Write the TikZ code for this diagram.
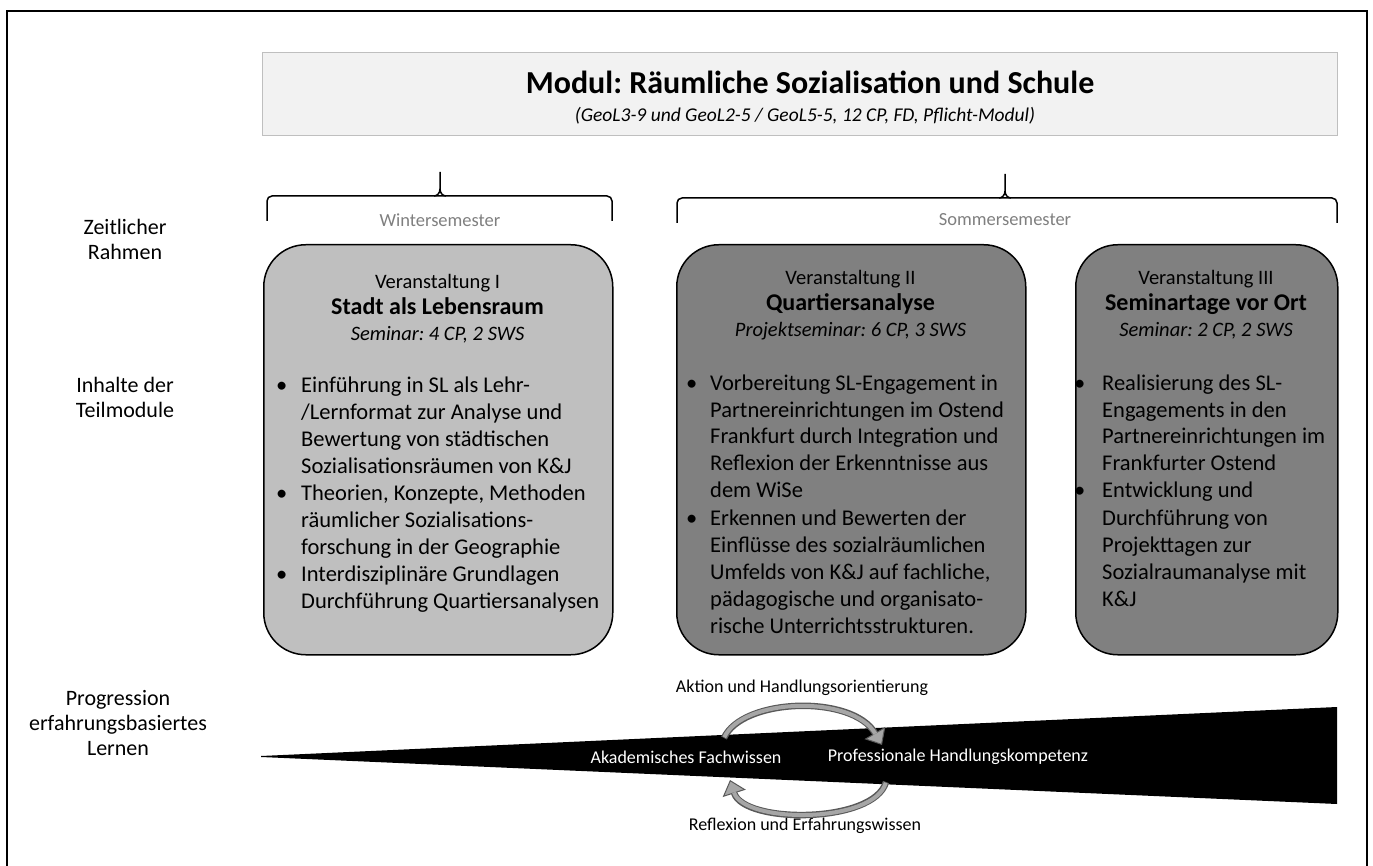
\documentclass[tikz,border=0pt]{standalone}
\usepackage{fontspec}
\setmainfont{Carlito}
\usetikzlibrary{arrows.meta}
\frenchspacing
\newcommand\fsz[2]{\fontsize{#1}{#2}\selectfont}
\definecolor{boxlight}{HTML}{BFBFBF}
\definecolor{boxdark}{HTML}{808080}
\definecolor{topfill}{HTML}{F2F2F2}
\definecolor{topline}{HTML}{BFBFBF}
\definecolor{semgray}{HTML}{7F7F7F}
\definecolor{arrowline}{HTML}{595959}
\definecolor{arrowfill}{HTML}{A6A6A6}
\begin{document}
\begin{tikzpicture}[x=1pt,y=-1pt,
  module/.style={draw=black, line width=1.5pt, rounded corners=42pt, anchor=north west,
    inner sep=0pt, minimum height=410pt},
  modlight/.style={module, fill=boxlight},
  moddark/.style={module, fill=boxdark},
  rowlabel/.style={align=center, font=\fsz{22}{25}},
  header/.style={align=center, font=\fsz{20.5}{26}, anchor=north},
  bullets/.style={anchor=base west, inner sep=0pt, font=\fsz{22.5}{27}},
  semester/.style={text=semgray, font=\fsz{18.5}{22}},
  brace/.style={line width=1.5pt, rounded corners=5pt},
  wedgetext/.style={text=white, font=\fsz{18}{22}},
  cycletext/.style={font=\fsz{18}{22}},
  cycleout/.style={draw=arrowline, line width=6.5pt},
  cyclein/.style={draw=arrowfill, line width=4pt, shorten >=13pt, shorten <=0.8pt},
]
\useasboundingbox (0,0) rectangle (1373,866);
% outer frame
\draw[line width=1.5pt] (7,880) -- (7,11) -- (1367,11) -- (1367,880);

% module title
\node[draw=topline, line width=1pt, fill=topfill, anchor=north west, minimum width=1075pt,
  minimum height=83pt, inner sep=0pt] (modbox) at (262,52) {};
\node[font=\bfseries\fsz{32}{36}] (title) at (810,82) {Modul: Räumliche Sozialisation und Schule};
\node[font=\itshape\fsz{19.5}{24}] (subtitle) at (805,116) {(GeoL3-9 und GeoL2-5 / GeoL5-5, 12 CP, FD, Pflicht-Modul)};

% row labels
\node[rowlabel] (lzeit) at (125,239) {Zeitlicher\\Rahmen};
\node[rowlabel] (linhalt) at (125,397) {Inhalte der\\Teilmodule};
\node[rowlabel] (lprog) at (118,723) {Progression\\erfahrungsbasiertes\\Lernen};

% braces
\draw[brace] (267,221) -- (267,196) -- (612,196) -- (612,221);
\draw[line width=1.5pt] (434,196) to[out=0,in=-90] (440,189) -- (440,172);
\draw[line width=1.5pt] (440,189) to[out=-90,in=180] (446,196);
\draw[brace] (677,223) -- (677,198) -- (1337,198) -- (1337,223);
\draw[line width=1.5pt] (999,198) to[out=0,in=-90] (1005,191) -- (1005,174);
\draw[line width=1.5pt] (1005,191) to[out=-90,in=180] (1011,198);
\node[semester] (winter) at (440,220) {Wintersemester};
\node[semester] (sommer) at (1005,220) {Sommersemester};

% module boxes
\node[modlight, minimum width=349pt] (m1) at (263,244) {};
\node[moddark, minimum width=349pt] (m2) at (676,244) {};
\node[moddark, minimum width=262pt] (m3) at (1075,244) {};

\node[header] (h1) at (437.5,271) {Veranstaltung I\\{\bfseries\fsz{24}{26}Stadt als Lebensraum}\\\textit{Seminar: 4 CP, 2 SWS}};
\node[header] (h2) at (850.5,267) {Veranstaltung II\\{\bfseries\fsz{24}{26}Quartiersanalyse}\\\textit{Projektseminar: 6 CP, 3 SWS}};
\node[header] (h3) at (1206,267) {Veranstaltung III\\{\bfseries\fsz{24}{26}Seminartage vor Ort}\\\textit{Seminar: 2 CP, 2 SWS}};

\node[bullets] (b1) at (276,392) {\begin{tabular}[t]{@{}p{25pt}@{}l@{}}
\textbullet & Einführung in SL als Lehr-\\
 & /Lernformat zur Analyse und\\
 & Bewertung von städtischen\\
 & Sozialisationsräumen von K\&J\\
\textbullet & Theorien, Konzepte, Methoden\\
 & räumlicher Sozialisations-\\
 & forschung in der Geographie\\
\textbullet & Interdisziplinäre Grundlagen\\
 & Durchführung Quartiersanalysen
\end{tabular}};
\node[bullets] (b2) at (686,390) {\begin{tabular}[t]{@{}p{24pt}@{}l@{}}
\textbullet & Vorbereitung SL-Engagement in\\
 & Partnereinrichtungen im Ostend\\
 & Frankfurt durch Integration und\\
 & Reflexion der Erkenntnisse aus\\
 & dem WiSe\\
\textbullet & Erkennen und Bewerten der\\
 & Einflüsse des sozialräumlichen\\
 & Umfelds von K\&J auf fachliche,\\
 & pädagogische und organisato-\\
 & rische Unterrichtsstrukturen.
\end{tabular}};
\node[bullets] (b3) at (1074,390) {\begin{tabular}[t]{@{}p{28pt}@{}l@{}}
\textbullet & Realisierung des SL-\\
 & Engagements in den\\
 & Partnereinrichtungen im\\
 & Frankfurter Ostend\\
\textbullet & Entwicklung und\\
 & Durchführung von\\
 & Projekttagen zur\\
 & Sozialraumanalyse mit\\
 & K\&J
\end{tabular}};

% progression wedge
\fill[black] (261,756) -- (1337,707) -- (1337,804) -- (261,757) -- cycle;
\node[wedgetext] (akad) at (686,757) {Akademisches Fachwissen};
\node[wedgetext] (prof) at (958,757) {Professionale Handlungskompetenz};
\node[cycletext] (aktion) at (802,688) {Aktion und Handlungsorientierung};
\node[cycletext] (reflex) at (805,826) {Reflexion und Erfahrungswissen};

\coordinate (a1) at (724,738);
\coordinate (a2) at (882,745);
\coordinate (r1) at (886,782);
\coordinate (r2) at (730,780);
\draw[cycleout, -{Triangle[width=24pt,length=14pt,fill=arrowfill,line width=1pt]}]
  (a1) .. controls (742,698) and (852,694) .. (a2);
\draw[cyclein] (a1) .. controls (742,698) and (852,694) .. (a2);
\draw[cycleout, -{Triangle[width=24pt,length=14pt,fill=arrowfill,line width=1pt]}]
  (r1) .. controls (874,824) and (744,824) .. (r2);
\draw[cyclein] (r1) .. controls (874,824) and (744,824) .. (r2);
\end{tikzpicture}
\end{document}
